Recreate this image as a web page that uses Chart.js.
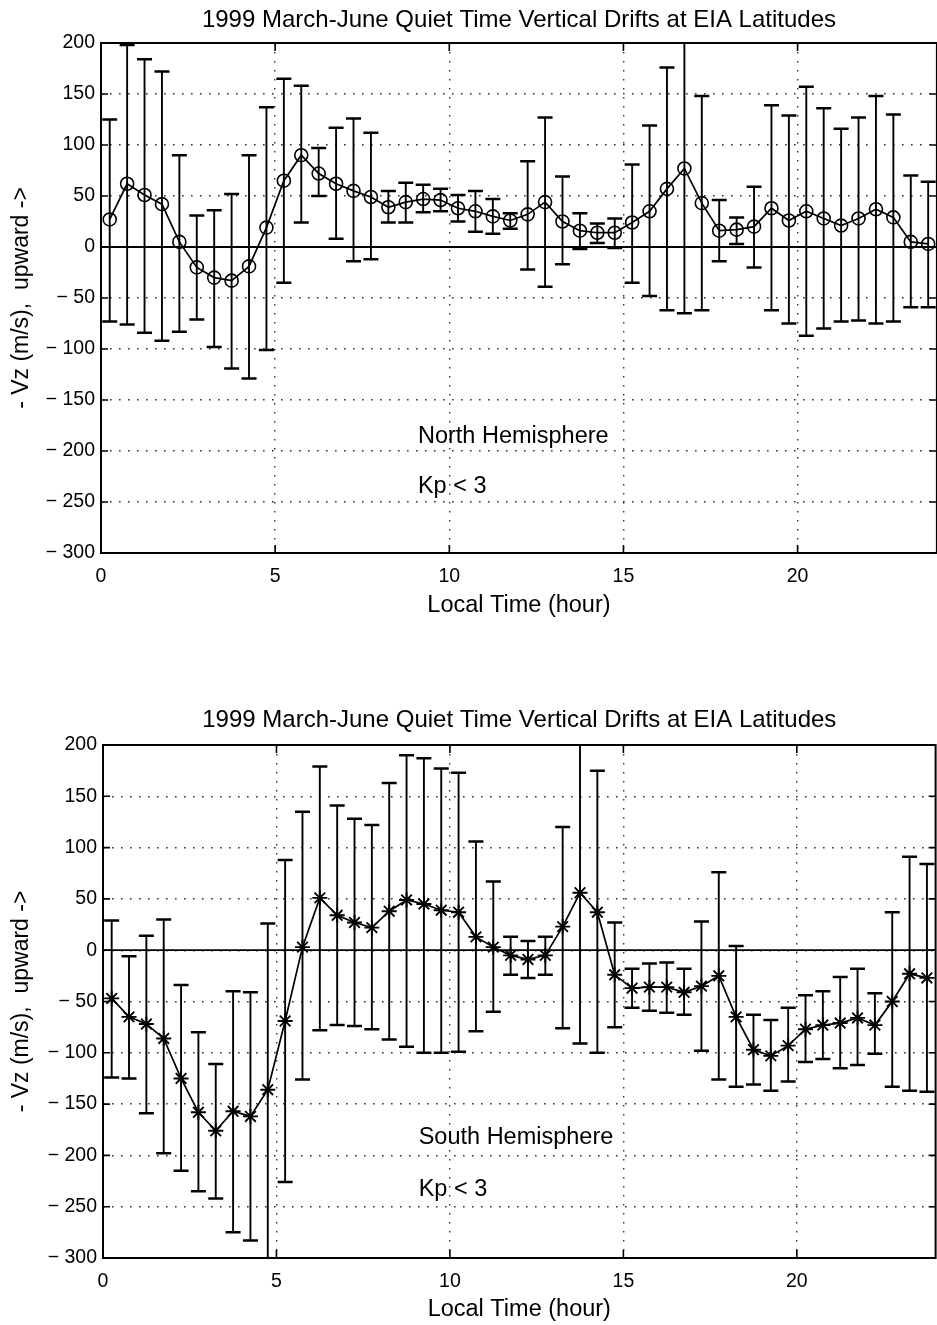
<!DOCTYPE html>
<html><head><meta charset="utf-8">
<script src="https://cdn.jsdelivr.net/npm/chart.js@4.4.1/dist/chart.umd.min.js"></script>
<style>
html,body{margin:0;padding:0;background:#fff;overflow:hidden;width:937px;height:1325px;}
#wrap{position:relative;width:937px;height:1325px;overflow:hidden;background:#fff;}
canvas{position:absolute;left:0;}
#c1{top:0;}
#c2{top:660px;}
</style></head><body><div id="wrap">
<canvas id="c1" width="945" height="660"></canvas>
<canvas id="c2" width="945" height="665"></canvas>
</div>
<script>
// ---------- data ----------
const hours = [0.25,0.75,1.25,1.75,2.25,2.75,3.25,3.75,4.25,4.75,5.25,5.75,6.25,6.75,7.25,7.75,
  8.25,8.75,9.25,9.75,10.25,10.75,11.25,11.75,12.25,12.75,13.25,13.75,14.25,14.75,15.25,15.75,
  16.25,16.75,17.25,17.75,18.25,18.75,19.25,19.75,20.25,20.75,21.25,21.75,22.25,22.75,23.25,23.75];

const northMean = [27,62,51,42,5,-20,-30,-33,-19,19,65,90,72,62,55,49,
  39,44,47,46,38,35,30,26,32,44,25,16,14,14,24,35,
  57,77,43,16,17,20,38,26,35,28,21,28,37,29,5,3];
const northHigh = [125,198,184,172,90,31,36,52,90,137,165,158,97,117,126,112,
  55,63,61,57,51,55,47,33,84,127,69,33,23,28,81,119,
  176,210,148,46,29,59,139,129,157,136,116,127,148,130,70,64];
const northLow = [-73,-76,-84,-92,-83,-71,-98,-119,-129,-101,-35,24,50,8,-14,-12,
  24,24,34,35,25,15,13,18,-22,-39,-17,-2,4,-1,-35,-48,
  -62,-65,-62,-14,3,-20,-62,-75,-87,-80,-73,-72,-75,-73,-59,-59];

const southMean = [-47,-65,-72,-86,-125,-158,-176,-157,-162,-136,-69,3,51,34,27,22,
  38,49,45,39,37,13,3,-5,-9,-5,23,56,37,-24,-37,-36,
  -36,-41,-35,-25,-65,-97,-103,-93,-77,-73,-71,-66,-73,-50,-23,-27];
const southHigh = [29,-6,14,30,-34,-80,-111,-40,-41,26,88,135,179,141,128,122,
  163,190,187,177,173,106,67,13,9,13,120,210,175,27,-18,-13,
  -12,-18,28,76,4,-63,-68,-56,-44,-40,-26,-18,-42,37,91,84];
const southLow = [-124,-125,-159,-198,-215,-235,-242,-275,-283,-305,-226,-126,-78,-73,-74,-77,
  -87,-94,-100,-100,-99,-79,-60,-24,-27,-24,-76,-91,-100,-75,-56,-59,
  -61,-63,-98,-126,-133,-131,-137,-128,-109,-106,-115,-112,-101,-133,-137,-138];

const zeroLine = [0, 0];
const zeroLineHours = [0, 24];
const xTicks = [0, 5, 10, 15, 20];
const yTicks = [200, 150, 100, 50, 0, -50, -100, -150, -200, -250, -300];

const titleText = '1999 March-June Quiet Time Vertical Drifts at EIA Latitudes';
const xLabel = 'Local Time (hour)';
const yLabel = '- Vz (m/s),  upward ->';
const northNotes = ['North Hemisphere', 'Kp < 3'];
const southNotes = ['South Hemisphere', 'Kp < 3'];

// ---------- drawing helpers ----------
const FONT = '"Liberation Sans", Arial, Helvetica, sans-serif';

const errorBarPlugin = {
  id: 'errorBars',
  afterDatasetsDraw(chart, args, opts) {
    const {ctx, chartArea: a, scales: {x, y}} = chart;
    ctx.save();
    ctx.beginPath();
    ctx.rect(a.left, a.top, a.right - a.left, a.bottom - a.top);
    ctx.clip();
    ctx.strokeStyle = '#000';
    opts.xs.forEach((h, i) => {
      const px = x.getPixelForValue(h);
      const pHi = y.getPixelForValue(opts.high[i]);
      const pLo = y.getPixelForValue(opts.low[i]);
      ctx.lineWidth = 1.9;
      ctx.beginPath();
      ctx.moveTo(px, pHi); ctx.lineTo(px, pLo);
      ctx.stroke();
      ctx.lineWidth = 2.5;
      ctx.beginPath();
      ctx.moveTo(px - 7.5, pHi); ctx.lineTo(px + 7.5, pHi);
      ctx.moveTo(px - 7.5, pLo); ctx.lineTo(px + 7.5, pLo);
      ctx.stroke();
    });
    ctx.restore();
  }
};

const framePlugin = {
  id: 'frame',
  afterDraw(chart) {
    const {ctx, chartArea: a, scales: {x, y}} = chart;
    ctx.save();
    ctx.strokeStyle = '#000';
    ctx.lineWidth = 2;
    ctx.strokeRect(a.left, a.top, a.right - a.left, a.bottom - a.top);
    ctx.lineWidth = 1.6;
    ctx.beginPath();
    xTicks.forEach(v => {
      const px = x.getPixelForValue(v);
      ctx.moveTo(px, a.top); ctx.lineTo(px, a.top + 8);
      ctx.moveTo(px, a.bottom); ctx.lineTo(px, a.bottom - 8);
    });
    yTicks.forEach(v => {
      const py = y.getPixelForValue(v);
      ctx.moveTo(a.left, py); ctx.lineTo(a.left + 7, py);
      ctx.moveTo(a.right, py); ctx.lineTo(a.right - 7, py);
    });
    ctx.stroke();
    ctx.restore();
  }
};

const notesPlugin = {
  id: 'notes',
  afterDraw(chart, args, opts) {
    const {ctx, scales: {x, y}} = chart;
    ctx.save();
    ctx.fillStyle = '#000';
    ctx.font = '23.5px ' + FONT;
    ctx.textAlign = 'left';
    ctx.textBaseline = 'middle';
    opts.items.forEach(it => {
      ctx.fillText(it.text, x.getPixelForValue(it.x), y.getPixelForValue(it.y));
    });
    ctx.restore();
  }
};

const yTickLabel = v => (v < 0 ? '\u2212 ' + Math.abs(v) : String(v));

function makeChart(id, mean, high, low, notes, cfg) {
  return new Chart(document.getElementById(id), {
    type: 'line',
    data: {
      datasets: [
        {
          data: hours.map((h, i) => ({x: h, y: mean[i]})),
          borderColor: '#000', borderWidth: 1.7,
          pointStyle: cfg.pointStyle, pointRadius: cfg.r,
          pointBorderColor: '#000', pointBackgroundColor: 'rgba(0,0,0,0)',
          pointBorderWidth: cfg.pbw, tension: 0, fill: false
        },
        {
          data: zeroLineHours.map((h, i) => ({x: h, y: zeroLine[i]})),
          borderColor: '#000', borderWidth: 1.8, pointRadius: 0, fill: false
        }
      ]
    },
    options: {
      responsive: false, animation: false, events: [],
      layout: {padding: {left: 0, right: cfg.padRight, top: 0, bottom: cfg.padBottom}},
      plugins: {
        legend: {display: false},
        tooltip: {enabled: false},
        title: {
          display: true, text: titleText, fullSize: false, color: '#000',
          font: {family: FONT, size: 24, weight: 'normal', lineHeight: 1.2},
          padding: {top: cfg.titleTop, bottom: cfg.titleBottom}
        },
        errorBars: {xs: hours, high: high, low: low},
        notes: {items: [
          {text: notes[0], x: 9.1, y: cfg.noteY[0]},
          {text: notes[1], x: 9.1, y: cfg.noteY[1]}
        ]}
      },
      scales: {
        x: {
          type: 'linear', min: 0, max: 24,
          afterBuildTicks: s => { s.ticks = xTicks.map(v => ({value: v})); },
          afterFit: s => { s.height = cfg.xh; },
          grid: {color: '#333', lineWidth: 1.4, drawTicks: false},
          border: {display: false, dash: [1.6, 7.4]},
          ticks: {color: '#000', font: {family: FONT, size: 19.5}, padding: 12, maxRotation: 0, autoSkip: false},
          title: {display: true, text: xLabel, color: '#000',
            font: {family: FONT, size: 23.5, lineHeight: 1.2}, padding: {top: 0, bottom: 1.5}}
        },
        y: {
          type: 'linear', min: -300, max: 200,
          afterBuildTicks: s => { s.ticks = yTicks.map(v => ({value: v})); },
          afterFit: s => { s.width = cfg.left; },
          grid: {color: '#333', lineWidth: 1.4, drawTicks: false},
          border: {display: false, dash: [1.6, 7.4]},
          ticks: {color: '#000', font: {family: FONT, size: 19.5}, padding: 6, autoSkip: false,
            callback: yTickLabel},
          title: {display: true, text: yLabel, color: '#000',
            font: {family: FONT, size: 23, lineHeight: 1.2}, padding: {top: 8, bottom: 0}}
        }
      }
    },
    plugins: [errorBarPlugin, framePlugin, notesPlugin]
  });
}

makeChart('c1', northMean, northHigh, northLow, northNotes, {
  pointStyle: 'circle', r: 6.5, pbw: 1.6, left: 101, padRight: 4, padBottom: 39, xh: 68,
  titleTop: 5.6, titleBottom: 8.6, noteY: [-186, -235]
});
makeChart('c2', southMean, southHigh, southLow, southNotes, {
  pointStyle: 'star', r: 7.5, pbw: 1.9, left: 103, padRight: 3, padBottom: 0, xh: 67,
  titleTop: 45.6, titleBottom: 10.6, noteY: [-183, -233]
});
</script>
</body></html>
